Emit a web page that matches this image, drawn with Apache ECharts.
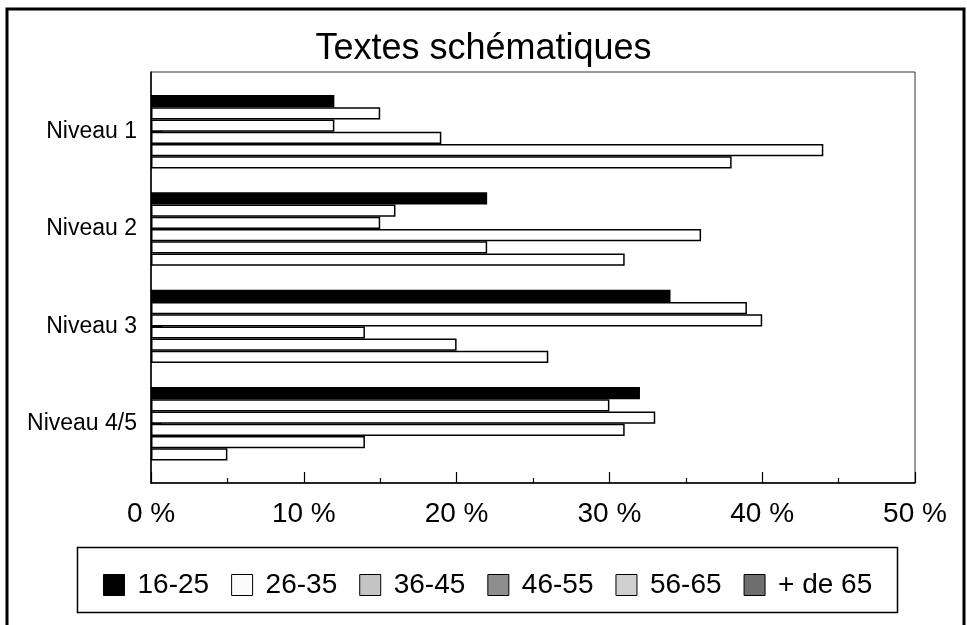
<!DOCTYPE html>
<html>
<head>
<meta charset="utf-8">
<script src="https://cdn.jsdelivr.net/npm/echarts@6/dist/echarts.min.js"></script>
<style>
html,body{margin:0;padding:0;background:#fff;}
#chart{width:967px;height:625px;}
</style>
</head>
<body>
<div id="chart"></div>
<script>
var categories = ['Niveau 1', 'Niveau 2', 'Niveau 3', 'Niveau 4/5'];
var seriesNames = ['16-25', '26-35', '36-45', '46-55', '56-65', '+ de 65'];
var v16_25 = [12, 22, 34, 32];
var v26_35 = [15, 16, 39, 30];
var v36_45 = [12, 15, 40, 33];
var v46_55 = [19, 36, 14, 31];
var v56_65 = [44, 22, 20, 14];
var v65plus = [38, 31, 26, 5];
var xTicks = [0, 10, 20, 30, 40, 50];

var seriesValues = [v16_25, v26_35, v36_45, v46_55, v56_65, v65plus];
var barFill = ['#000000', '#ffffff', '#ffffff', '#ffffff', '#ffffff', '#ffffff'];
var legendFill = ['#000000', '#fbfbfb', '#c4c4c4', '#8e8e8e', '#cfcfcf', '#6e6e6e'];
var FONT = "'Liberation Sans', Arial, sans-serif";

var chart = echarts.init(document.getElementById('chart'), null, {renderer: 'canvas'});

var series = seriesNames.map(function (name, i) {
  return {
    name: name,
    type: 'bar',
    xAxisIndex: 1,
    yAxisIndex: 1,
    data: seriesValues[i],
    barGap: '0%',
    barCategoryGap: '24.5%',
    itemStyle: {color: barFill[i], borderColor: '#000', borderWidth: 1.5},
    emphasis: {disabled: true},
    animation: false
  };
});

var option = {
  backgroundColor: '#fff',
  animation: false,
  title: {
    text: 'Textes schématiques',
    left: 'center',
    top: 26,
    textStyle: {fontFamily: FONT, fontSize: 36, fontWeight: 'normal', color: '#000'}
  },
  legend: {
    left: 98,
    top: 566,
    icon: 'rect',
    itemWidth: 21,
    itemHeight: 21,
    itemGap: 22,
    selectedMode: false,
    textStyle: {fontFamily: FONT, fontSize: 28, color: '#000', padding: [0, 0, 0, 8]},
    data: seriesNames.map(function (n, i) {
      return {name: n, itemStyle: {color: legendFill[i], borderColor: '#000', borderWidth: 1}};
    })
  },
  grid: [
    {left: 151, right: 52, top: 72, bottom: 142, show: true, borderColor: '#333', borderWidth: 1, backgroundColor: 'transparent'},
    {left: 151, right: 52, top: 83, bottom: 152.6}
  ],
  xAxis: [
    {
      gridIndex: 0, type: 'value', min: 0, max: 50, interval: 10,
      axisLine: {show: true, lineStyle: {color: '#000', width: 1.5}},
      axisTick: {show: true, inside: true, length: 11, lineStyle: {color: '#000', width: 1.2}},
      minorTick: {show: true, splitNumber: 2, length: 5, lineStyle: {color: '#000', width: 1.2}},
      splitLine: {show: false},
      axisLabel: {
        margin: 17, color: '#000', fontFamily: FONT, fontSize: 28,
        formatter: function (v) { return v + ' %'; }
      }
    },
    {
      gridIndex: 1, type: 'value', min: 0, max: 50, interval: 10,
      show: false
    }
  ],
  yAxis: [
    {
      gridIndex: 0, type: 'value', min: 0, max: 1,
      axisLine: {show: true, lineStyle: {color: '#000', width: 1.5}},
      axisTick: {show: false}, axisLabel: {show: false}, splitLine: {show: false}
    },
    {
      gridIndex: 1, type: 'category', data: categories, inverse: true,
      axisLine: {show: false},
      axisTick: {show: true, inside: true, alignWithLabel: true, length: 11, lineStyle: {color: '#000', width: 1.2}},
      axisLabel: {margin: 14, color: '#000', fontFamily: FONT, fontSize: 23},
      splitLine: {show: false}
    }
  ],
  graphic: [
    {type: 'rect', shape: {x: 7, y: 9, width: 957, height: 700}, style: {fill: 'none', stroke: '#000', lineWidth: 3}, silent: true},
    {type: 'rect', shape: {x: 77.5, y: 547.5, width: 820, height: 65}, style: {fill: 'none', stroke: '#000', lineWidth: 1.5}, silent: true}
  ],
  series: series
};
chart.setOption(option);
</script>
</body>
</html>
